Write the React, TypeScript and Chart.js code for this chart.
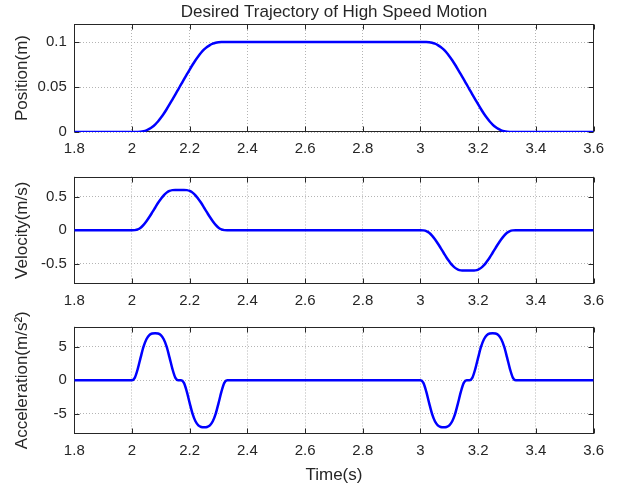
import React, { useEffect, useRef } from 'react';
import { Chart, registerables } from 'chart.js';

Chart.register(...registerables);

// ---------------- data ----------------
const time = [
  1.8,
  2.00, 2.01, 2.02, 2.03, 2.04, 2.05, 2.06, 2.07, 2.08, 2.09, 2.10, 2.11, 2.12, 2.13, 2.14, 2.15, 2.16,
  2.17, 2.18, 2.19, 2.20, 2.21, 2.22, 2.23, 2.24, 2.25, 2.26, 2.27, 2.28, 2.29, 2.30, 2.31, 2.32, 2.33,
  3.00, 3.01, 3.02, 3.03, 3.04, 3.05, 3.06, 3.07, 3.08, 3.09, 3.10, 3.11, 3.12, 3.13, 3.14, 3.15, 3.16,
  3.17, 3.18, 3.19, 3.20, 3.21, 3.22, 3.23, 3.24, 3.25, 3.26, 3.27, 3.28, 3.29, 3.30, 3.31, 3.32, 3.33,
  3.6,
];

const position = [
  0,
  0, 0.00001, 0.00007, 0.0003, 0.00085, 0.00185, 0.0034, 0.0055, 0.0083, 0.0117, 0.0158, 0.0203, 0.0253, 0.0306, 0.0361, 0.0416, 0.0472,
  0.0528, 0.0584, 0.0639, 0.0694, 0.0747, 0.0797, 0.0842, 0.0883, 0.0917, 0.0945, 0.0966, 0.09815, 0.09915, 0.0997, 0.09993, 0.09999, 0.1,
  0.1, 0.09999, 0.09993, 0.0997, 0.09915, 0.09815, 0.0966, 0.0945, 0.0917, 0.0883, 0.0842, 0.0797, 0.0747, 0.0694, 0.0639, 0.0584, 0.0528,
  0.0472, 0.0416, 0.0361, 0.0306, 0.0253, 0.0203, 0.0158, 0.0117, 0.0083, 0.0055, 0.0034, 0.00185, 0.00085, 0.0003, 0.00007, 0.00001, 0,
  0,
];

const velocity = [
  0,
  0, 0.002, 0.012, 0.038, 0.080, 0.135, 0.197, 0.265, 0.335, 0.405, 0.465, 0.520, 0.560, 0.585, 0.597, 0.600, 0.600,
  0.600, 0.600, 0.597, 0.585, 0.560, 0.520, 0.465, 0.405, 0.335, 0.265, 0.197, 0.135, 0.080, 0.038, 0.012, 0.002, 0,
  0, -0.002, -0.012, -0.038, -0.080, -0.135, -0.197, -0.265, -0.335, -0.405, -0.465, -0.520, -0.560, -0.585, -0.597, -0.600, -0.600,
  -0.600, -0.600, -0.597, -0.585, -0.560, -0.520, -0.465, -0.405, -0.335, -0.265, -0.197, -0.135, -0.080, -0.038, -0.012, -0.002, 0,
  0,
];

const acceleration = [
  0,
  0, 0.4, 1.7, 3.4, 5.0, 6.1, 6.7, 6.95, 7.0, 6.95, 6.7, 6.1, 5.0, 3.4, 1.7, 0.4, 0,
  0, -0.4, -1.7, -3.4, -5.0, -6.1, -6.7, -6.95, -7.0, -6.95, -6.7, -6.1, -5.0, -3.4, -1.7, -0.4, 0,
  0, -0.4, -1.7, -3.4, -5.0, -6.1, -6.7, -6.95, -7.0, -6.95, -6.7, -6.1, -5.0, -3.4, -1.7, -0.4, 0,
  0, 0.4, 1.7, 3.4, 5.0, 6.1, 6.7, 6.95, 7.0, 6.95, 6.7, 6.1, 5.0, 3.4, 1.7, 0.4, 0,
  0,
];

const timeTicks = [1.8, 2, 2.2, 2.4, 2.6, 2.8, 3, 3.2, 3.4, 3.6];
const positionTicks = [0, 0.05, 0.1];
const velocityTicks = [-0.5, 0, 0.5];
const accelerationTicks = [-5, 0, 5];

const chartTitle = 'Desired Trajectory of High Speed Motion';
const xLabel = 'Time(s)';
const positionLabel = 'Position(m)';
const velocityLabel = 'Velocity(m/s)';
const accelerationLabel = 'Acceleration(m/s\u00B2)';

// ---------------- styling ----------------
const FONT = "'Liberation Sans', Arial, Helvetica, sans-serif";
const TEXT = '#262626';
const W = 619;
const Y_AXIS_W = 74.3;
const RIGHT_PAD = 25.4;

const framePlugin = {
  id: 'matlabFrame',
  beforeDatasetsDraw(chart: any) {
    const { ctx, chartArea: a, scales } = chart;
    const L = Math.round(a.left) + 0.5;
    const R = Math.round(a.right) - 0.5;
    const T = Math.round(a.top) + 0.5;
    const B = Math.round(a.bottom) - 0.5;
    ctx.save();
    ctx.strokeStyle = TEXT;
    ctx.lineWidth = 1;
    ctx.setLineDash([]);
    ctx.strokeRect(L, T, R - L, B - T);
    const tl = 5;
    ctx.beginPath();
    const xs = scales.x;
    (xs.ticks || []).forEach((t: any) => {
      const px = Math.round(xs.getPixelForValue(t.value)) + 0.5;
      ctx.moveTo(px, B); ctx.lineTo(px, B - tl);
      ctx.moveTo(px, T); ctx.lineTo(px, T + tl);
    });
    const ys = scales.y;
    (ys.ticks || []).forEach((t: any) => {
      const py = Math.round(ys.getPixelForValue(t.value)) + 0.5;
      ctx.moveTo(L, py); ctx.lineTo(L + tl, py);
      ctx.moveTo(R, py); ctx.lineTo(R - tl, py);
    });
    ctx.stroke();
    ctx.restore();
  },
};

type PanelProps = {
  top: number;
  height: number;
  padTop: number;
  xAxisHeight: number;
  values: number[];
  yMin: number;
  yMax: number;
  yTicks: number[];
  yLabel: string;
  title?: string;
  showXLabel?: boolean;
};

function Panel(p: PanelProps) {
  const ref = useRef<HTMLCanvasElement | null>(null);
  useEffect(() => {
    if (!ref.current) return;
    const data = time.map((t, i) => ({ x: t, y: p.values[i] }));
    const scales: any = {
      x: {
        type: 'linear',
        min: 1.8,
        max: 3.6,
        afterBuildTicks: (s: any) => { s.ticks = timeTicks.map((v) => ({ value: v })); },
        afterFit: (s: any) => { s.height = p.xAxisHeight; },
        ticks: {
          color: TEXT,
          font: { family: FONT, size: 15 },
          padding: 8,
          maxRotation: 0,
          autoSkip: false,
          callback: (v: any) => String(v),
        },
        grid: { color: '#b4b4b4', lineWidth: 1, drawTicks: false },
        border: { display: false, dash: [1, 2] },
        title: {
          display: !!p.showXLabel,
          text: xLabel,
          color: TEXT,
          font: { family: FONT, size: 17 },
          padding: { top: 0, bottom: 1.5 },
        },
      },
      y: {
        type: 'linear',
        min: p.yMin,
        max: p.yMax,
        afterBuildTicks: (s: any) => { s.ticks = p.yTicks.map((v) => ({ value: v })); },
        afterFit: (s: any) => { s.width = Y_AXIS_W; },
        ticks: {
          color: TEXT,
          font: { family: FONT, size: 15 },
          padding: 7.5,
          autoSkip: false,
          callback: (v: any) => String(v),
        },
        grid: { color: '#b4b4b4', lineWidth: 1, drawTicks: false },
        border: { display: false, dash: [1, 2] },
        title: {
          display: true,
          text: p.yLabel,
          color: TEXT,
          font: { family: FONT, size: 17 },
          padding: { top: 12.3, bottom: 0 },
        },
      },
    };
    if (p.title) {
      // top axis that only carries the chart title, centred over the plot area
      scales.xTitle = {
        type: 'linear',
        position: 'top',
        min: 1.8,
        max: 3.6,
        afterFit: (s: any) => { s.height = 24; },
        ticks: { display: false },
        grid: { display: false, drawTicks: false },
        border: { display: false },
        title: {
          display: true,
          text: p.title,
          color: TEXT,
          font: { family: FONT, size: 17 },
          padding: { top: 1.8, bottom: 0 },
        },
      };
    }
    const chart = new Chart(ref.current, {
      type: 'line',
      data: {
        datasets: [
          {
            data,
            borderColor: '#0000FF',
            borderWidth: 2.5,
            pointRadius: 0,
            fill: false,
            cubicInterpolationMode: 'monotone',
          },
        ],
      },
      plugins: [framePlugin],
      options: {
        responsive: false,
        animation: false,
        devicePixelRatio: 1,
        layout: { padding: { top: p.padTop, left: 0, right: RIGHT_PAD, bottom: 0 } },
        plugins: {
          legend: { display: false },
          tooltip: { enabled: false },
          title: { display: false },
        },
        scales,
      } as any,
    });
    return () => chart.destroy();
  }, []);
  return (
    <canvas
      ref={ref}
      width={W}
      height={p.height}
      style={{ position: 'absolute', left: 0, top: p.top, width: W, height: p.height, display: 'block' }}
    />
  );
}

export default function App() {
  return (
    <div style={{ position: 'absolute', left: 0, top: 0, width: W, height: 487, background: '#ffffff', overflow: 'hidden' }}>
      <Panel top={0} height={160} padTop={0} xAxisHeight={28} values={position} yMin={0} yMax={0.12}
        yTicks={positionTicks} yLabel={positionLabel} title={chartTitle} />
      <Panel top={160} height={150} padTop={15} xAxisHeight={26} values={velocity} yMin={-0.8} yMax={0.8}
        yTicks={velocityTicks} yLabel={velocityLabel} />
      <Panel top={310} height={177} padTop={15} xAxisHeight={53} values={acceleration} yMin={-8} yMax={8}
        yTicks={accelerationTicks} yLabel={accelerationLabel} showXLabel />
    </div>
  );
}
